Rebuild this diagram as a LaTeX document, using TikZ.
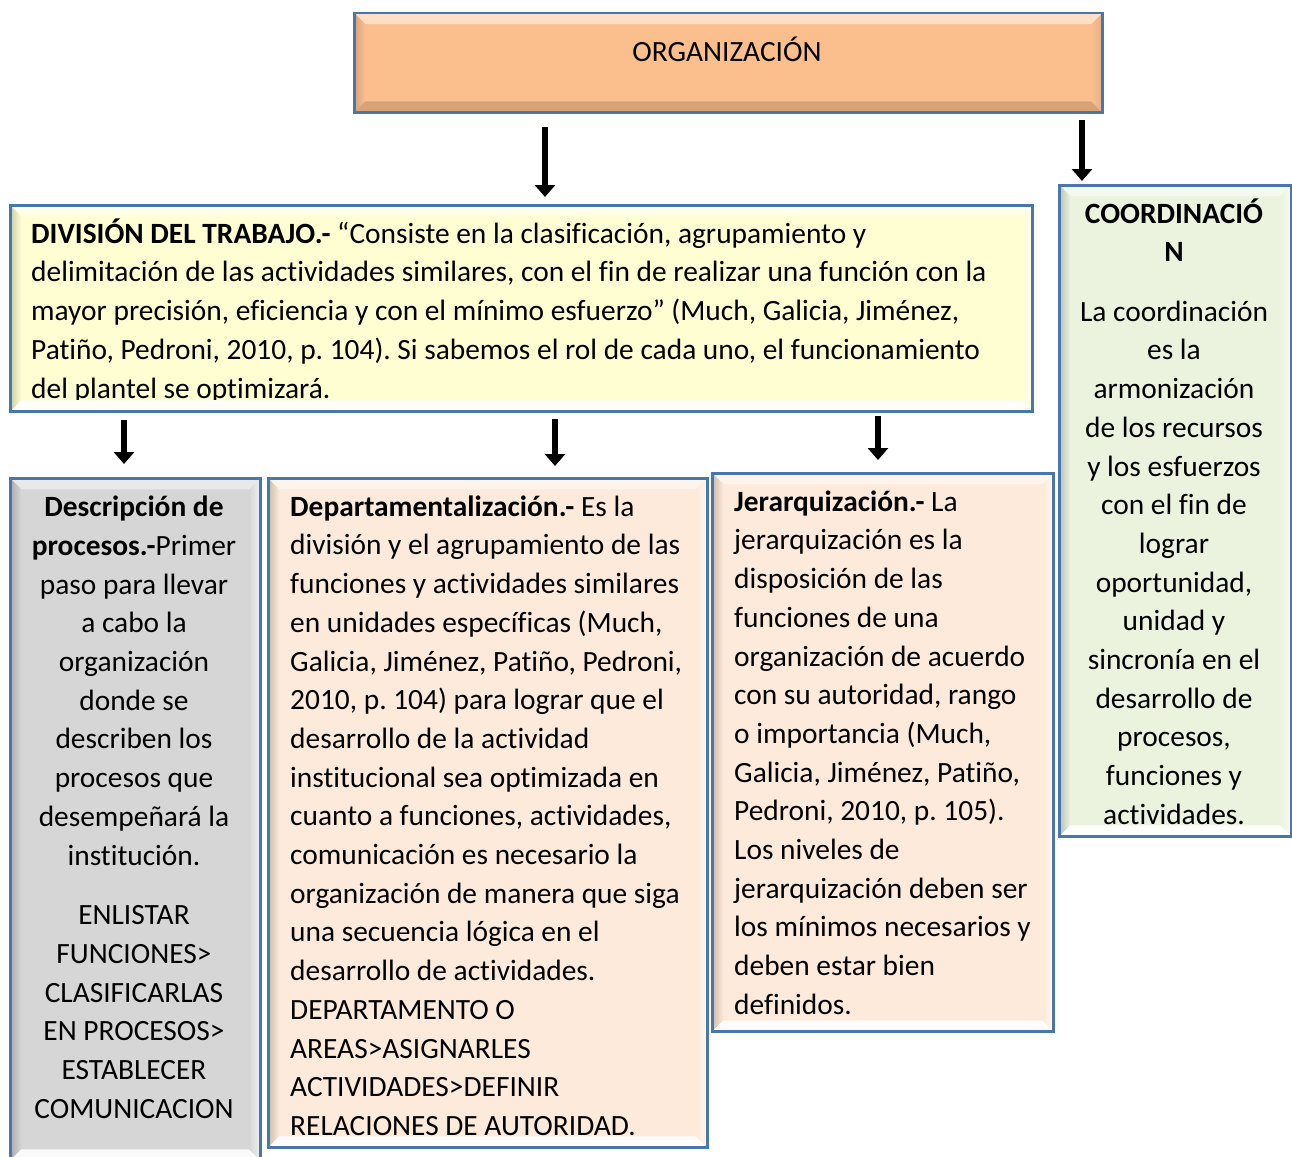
\documentclass[tikz,border=0pt]{standalone}
\usepackage{fontspec}
\setmainfont{Carlito}[Ligatures=NoCommon]
\usetikzlibrary{arrows.meta}
\frenchspacing
\definecolor{bord}{HTML}{4A76AE}
\definecolor{cOrg}{HTML}{FBBF8E}
\definecolor{cDiv}{HTML}{FFFED2}
\definecolor{cCoo}{HTML}{EBF3DF}
\definecolor{cGry}{HTML}{D6D6D6}
\definecolor{cPch}{HTML}{FDEADA}
\tikzset{
  bevelbox/.style n args={5}{draw=bord, line width=2.5pt, fill=#1, inner sep=0pt, anchor=north west,
    path picture={
      \fill[#2] (path picture bounding box.north west) -- (path picture bounding box.north east)
        -- ([shift={(-11pt,-11pt)}]path picture bounding box.north east)
        -- ([shift={(11pt,-11pt)}]path picture bounding box.north west) -- cycle;
      \shade[left color=#3, right color=#1] (path picture bounding box.north west) -- (path picture bounding box.south west)
        -- ([shift={(11pt,11pt)}]path picture bounding box.south west)
        -- ([shift={(11pt,-11pt)}]path picture bounding box.north west) -- cycle;
      \fill[#4] (path picture bounding box.south west) -- (path picture bounding box.south east)
        -- ([shift={(-11pt,11pt)}]path picture bounding box.south east)
        -- ([shift={(11pt,11pt)}]path picture bounding box.south west) -- cycle;
      \shade[left color=#1, right color=#5] (path picture bounding box.north east) -- (path picture bounding box.south east)
        -- ([shift={(-11pt,11pt)}]path picture bounding box.south east)
        -- ([shift={(-11pt,-11pt)}]path picture bounding box.north east) -- cycle;
    }},
  lowbox/.style={bevelbox={#1}{#1!55!white}{#1!80!black}{#1!12!white}{#1!35!white}},
  txt/.style={inner sep=0pt, font=\fontsize{29.4}{38.7}\selectfont, text=black},
  arr/.style={line width=6pt, -{Triangle[width=20pt,length=12pt]}, black},
}
\begin{document}
\begin{tikzpicture}[x=1pt,y=-1pt]
\useasboundingbox[fill=white] (0,0) rectangle (1292,1156);

% boxes
\node[bevelbox={cOrg}{cOrg!50!white}{cOrg!85!black}{cOrg!85!black}{cOrg!92!black}, minimum width=748pt, minimum height=99pt] (org) at (353,12) {};
\node[lowbox=cDiv, minimum width=1022pt, minimum height=206pt] (div) at (9,204) {};
\node[lowbox=cCoo, minimum width=232pt, minimum height=651pt] (coo) at (1058,184) {};
\node[lowbox=cGry, minimum width=250pt, minimum height=682pt] (desc) at (9,477) {};
\node[lowbox=cPch, minimum width=439pt, minimum height=669pt] (dept) at (267,477) {};
\node[lowbox=cPch, minimum width=341pt, minimum height=558pt] (jer) at (711,472) {};

% texts
\node[txt, anchor=base] (torg) at (727,61) {ORGANIZACIÓN};

\begin{scope}
\clip (9,204) rectangle (1031,399);
\node[txt, anchor=north west, align=left] (tdiv) at (31,215) {\rule{0pt}{28pt}\textbf{DIVISIÓN DEL TRABAJO.-} “Consiste en la clasificación, agrupamiento y\\
delimitación de las actividades similares, con el fin de realizar una función con la\\
mayor precisión, eficiencia y con el mínimo esfuerzo” (Much, Galicia, Jiménez,\\
Patiño, Pedroni, 2010, p. 104). Si sabemos el rol de cada uno, el funcionamiento\\
del plantel se optimizará.};
\end{scope}

\node[txt, anchor=north, align=center] (tcoo) at (1174,195) {\rule{0pt}{28pt}\textbf{COORDINACIÓ}\\
\textbf{N}\\[20.6pt]
La coordinación\\ es la\\ armonización\\ de los recursos\\ y los esfuerzos\\ con el fin de\\ lograr\\ oportunidad,\\ unidad y\\ sincronía en el\\ desarrollo de\\ procesos,\\ funciones y\\ actividades.};

\node[txt, anchor=north, align=center] (tdesc) at (134,488.5) {\rule{0pt}{28pt}\textbf{Descripción de}\\
\textbf{procesos.-}Primer\\ paso para llevar\\ a cabo la\\ organización\\ donde se\\ describen los\\ procesos que\\ desempeñará la\\ institución.\\[21pt]
ENLISTAR\\ FUNCIONES>\\ CLASIFICARLAS\\ EN PROCESOS>\\ ESTABLECER\\ COMUNICACION};

\node[txt, anchor=north west, align=left] (tdept) at (290,488) {\rule{0pt}{28pt}\textbf{Departamentalización.-} Es la\\
división y el agrupamiento de las\\ funciones y actividades similares\\ en unidades específicas (Much,\\ Galicia, Jiménez, Patiño, Pedroni,\\ 2010, p. 104) para lograr que el\\ desarrollo de la actividad\\ institucional sea optimizada en\\ cuanto a funciones, actividades,\\ comunicación es necesario la\\ organización de manera que siga\\ una secuencia lógica en el\\ desarrollo de actividades.\\ DEPARTAMENTO O\\ AREAS>ASIGNARLES\\ ACTIVIDADES>DEFINIR\\ RELACIONES DE AUTORIDAD.};

\node[txt, anchor=north west, align=left] (tjer) at (734,483) {\rule{0pt}{28pt}\textbf{Jerarquización.-} La\\
jerarquización es la\\ disposición de las\\ funciones de una\\ organización de acuerdo\\ con su autoridad, rango\\ o importancia (Much,\\ Galicia, Jiménez, Patiño,\\ Pedroni, 2010, p. 105).\\ Los niveles de\\ jerarquización deben ser\\ los mínimos necesarios y\\ deben estar bien\\ definidos.};

% arrows
\coordinate (a1s) at (545,127); \coordinate (a1e) at (545,197);
\coordinate (a2s) at (1082,120); \coordinate (a2e) at (1082,181);
\coordinate (a3s) at (124,420); \coordinate (a3e) at (124,464);
\coordinate (a4s) at (555,419); \coordinate (a4e) at (555,466);
\coordinate (a5s) at (878,416); \coordinate (a5e) at (878,460);
\draw[arr] (a1s) -- (a1e);
\draw[arr] (a2s) -- (a2e);
\draw[arr] (a3s) -- (a3e);
\draw[arr] (a4s) -- (a4e);
\draw[arr] (a5s) -- (a5e);
\end{tikzpicture}
\end{document}
